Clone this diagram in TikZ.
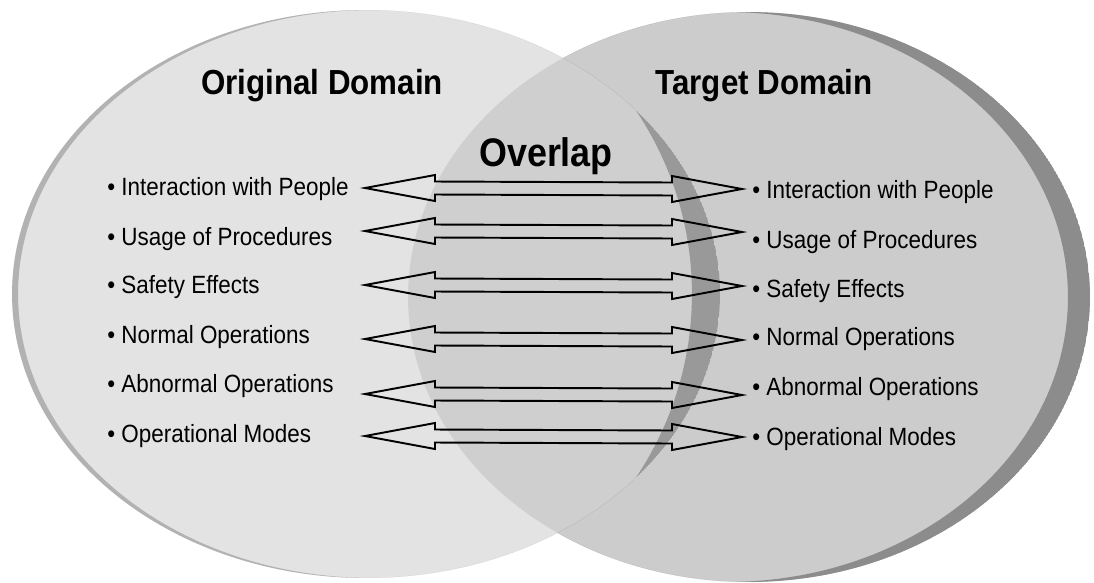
\documentclass[tikz,border=0pt]{standalone}
\usepackage{fontspec}
\setmainfont[FakeStretch=0.9]{Liberation Sans}

\begin{document}
\begin{tikzpicture}[x=0.02cm, y=-0.02cm,
        item/.style={anchor=base west, inner sep=0pt, font=\fontsize{14.2}{17}\selectfont},
        heading/.style={anchor=base, inner sep=0pt, font=\fontsize{19.8}{24}\selectfont\bfseries},
        biarrow/.style={draw, line width=1.1pt, to path={(\tikztostart)
                -- ([xshift=1.4cm,yshift=0.26cm]\tikztostart) -- ([xshift=1.4cm,yshift=0.13cm]\tikztostart)
                -- ([xshift=-1.4cm,yshift=0.13cm]\tikztotarget) -- ([xshift=-1.4cm,yshift=0.26cm]\tikztotarget)
                -- (\tikztotarget)
                -- ([xshift=-1.4cm,yshift=-0.26cm]\tikztotarget) -- ([xshift=-1.4cm,yshift=-0.13cm]\tikztotarget)
                -- ([xshift=1.4cm,yshift=-0.13cm]\tikztostart) -- ([xshift=1.4cm,yshift=-0.26cm]\tikztostart)
                -- cycle}}]
        \useasboundingbox[fill=white] (0,0) rectangle (1094,582);

        % Target domain
        \path[fill=black!20] (749,297) ellipse [x radius=6.82cm, y radius=5.70cm];
        \begin{scope}
                \clip (749,297) ellipse [x radius=6.82cm, y radius=5.70cm];
                \path[fill=black!45, even odd rule] (749,297) ellipse [x radius=6.82cm, y radius=5.70cm]
                        (727,297) ellipse [x radius=6.82cm, y radius=5.70cm]; % Rand
        \end{scope}

        % Original domain
        \path[fill=black!11] (366,294) ellipse [x radius=7.08cm, y radius=5.68cm];
        \begin{scope}
                \clip (366,294) ellipse [x radius=7.08cm, y radius=5.68cm];
                \path[fill=black!30, even odd rule] (366,294) ellipse [x radius=7.08cm, y radius=5.68cm]
                        (372,294) ellipse [x radius=7.08cm, y radius=5.68cm]; % Venstre rand
                \clip (749,297) ellipse [x radius=6.82cm, y radius=5.70cm];
                \path[fill=black!19] (366,294) ellipse [x radius=7.08cm, y radius=5.68cm]; % Overlap
                \path[fill=black!40, even odd rule] (366,294) ellipse [x radius=7.08cm, y radius=5.68cm]
                        (338,294) ellipse [x radius=7.08cm, y radius=6.80cm]; % Skygge
        \end{scope}

        \node[heading] (orig) at (322,94) {Original Domain};
        \node[heading] (targ) at (764,94) {Target Domain};
        \node[heading, font=\fontsize{22.7}{27}\selectfont\bfseries] (over) at (546,166) {Overlap};

        \node[item] (l1) at (107,195) {\textbullet\ Interaction with People};
        \node[item] (l2) at (107,245) {\textbullet\ Usage of Procedures};
        \node[item] (l3) at (107,293) {\textbullet\ Safety Effects};
        \node[item] (l4) at (107,343) {\textbullet\ Normal Operations};
        \node[item] (l5) at (107,392) {\textbullet\ Abnormal Operations};
        \node[item] (l6) at (107,442) {\textbullet\ Operational Modes};

        \node[item] (r1) at (752,198) {\textbullet\ Interaction with People};
        \node[item] (r2) at (752,248) {\textbullet\ Usage of Procedures};
        \node[item] (r3) at (752,297) {\textbullet\ Safety Effects};
        \node[item] (r4) at (752,345) {\textbullet\ Normal Operations};
        \node[item] (r5) at (752,395) {\textbullet\ Abnormal Operations};
        \node[item] (r6) at (752,445) {\textbullet\ Operational Modes};

        % Pilespidser
        \coordinate (pl1) at (365,188); \coordinate (pr1) at (742,189);
        \coordinate (pl2) at (365,231); \coordinate (pr2) at (742,232);
        \coordinate (pl3) at (365,285); \coordinate (pr3) at (742,286);
        \coordinate (pl4) at (365,339); \coordinate (pr4) at (742,340);
        \coordinate (pl5) at (365,394); \coordinate (pr5) at (742,395);
        \coordinate (pl6) at (365,436); \coordinate (pr6) at (742,437);

        \path[biarrow] (pl1) to (pr1);
        \path[biarrow] (pl2) to (pr2);
        \path[biarrow] (pl3) to (pr3);
        \path[biarrow] (pl4) to (pr4);
        \path[biarrow] (pl5) to (pr5);
        \path[biarrow] (pl6) to (pr6);
    \end{tikzpicture}
\end{document}
